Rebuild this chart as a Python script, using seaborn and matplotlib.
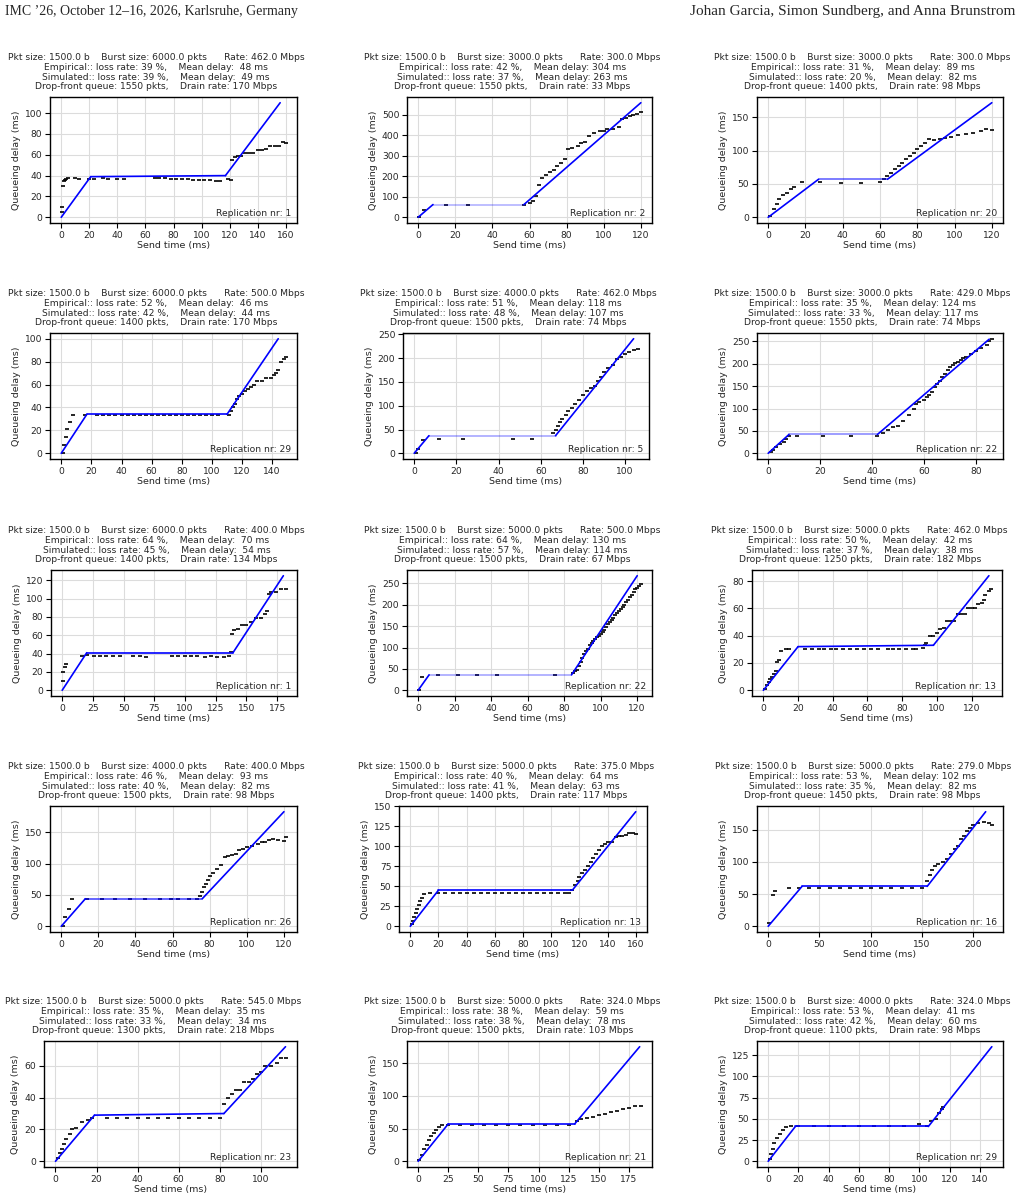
import matplotlib
matplotlib.use("Agg")
import matplotlib.pyplot as plt
from matplotlib.ticker import MultipleLocator
import seaborn as sns
import pandas as pd

# ---------------- data ----------------
burst_size = [6000, 3000, 3000, 6000, 4000, 3000, 6000, 5000, 5000, 4000, 5000, 5000, 5000, 5000, 4000]
pkt_size = [1500.0] * 15
rate_mbps = [462.0, 300.0, 300.0, 500.0, 462.0, 429.0, 400.0, 500.0, 462.0, 400.0, 375.0, 279.0, 545.0, 324.0, 324.0]
emp_loss = [39, 42, 31, 52, 51, 35, 64, 64, 50, 46, 40, 53, 35, 38, 53]
emp_delay = [48, 304, 89, 46, 118, 124, 70, 130, 42, 93, 64, 102, 35, 59, 41]
sim_loss = [39, 37, 20, 42, 48, 33, 45, 57, 37, 40, 41, 35, 33, 38, 42]
sim_delay = [49, 263, 82, 44, 107, 117, 54, 114, 38, 82, 63, 82, 34, 78, 60]
queue_pkts = [1550, 1550, 1400, 1400, 1500, 1550, 1400, 1500, 1250, 1500, 1400, 1450, 1300, 1500, 1100]
drain_mbps = [170, 33, 98, 170, 74, 74, 134, 67, 182, 98, 117, 98, 218, 103, 98]
replication = [1, 2, 20, 29, 5, 22, 1, 22, 13, 26, 13, 16, 23, 21, 29]

# simulated queue (piecewise linear breakpoints)
sim_t_01 = [0, 21, 117, 156];  sim_d_01 = [0, 39, 40, 110]
sim_t_02 = [0, 8, 57, 120];    sim_d_02 = [0, 62, 62, 558]
sim_t_03 = [0, 27, 64, 120];   sim_d_03 = [0, 57, 57, 172]
sim_t_04 = [0, 17, 110, 144];  sim_d_04 = [0, 34, 34, 100]
sim_t_05 = [0, 7, 67, 104];    sim_d_05 = [0, 37, 37, 241]
sim_t_06 = [0, 8, 42, 85];     sim_d_06 = [0, 42, 42, 255]
sim_t_07 = [0, 20, 139, 180];  sim_d_07 = [0, 41, 41, 125]
sim_t_08 = [0, 6, 84, 120];    sim_d_08 = [0, 36, 36, 268]
sim_t_09 = [0, 20, 98, 130];   sim_d_09 = [0, 32, 33, 84]
sim_t_10 = [0, 13, 76, 120];   sim_d_10 = [0, 44, 44, 183]
sim_t_11 = [0, 20, 115, 160];  sim_d_11 = [0, 45, 45, 143]
sim_t_12 = [0, 33, 155, 212];  sim_d_12 = [0, 62, 62, 178]
sim_t_13 = [0, 19, 82, 112];   sim_d_13 = [0, 29, 30, 72]
sim_t_14 = [0, 25, 130, 184];  sim_d_14 = [0, 57, 57, 175]
sim_t_15 = [0, 18, 106, 148];  sim_d_15 = [0, 41, 41, 135]

# empirical queueing delays
emp_t_01 = [0.5, 0.7, 1.2, 1.8, 2.5, 3.5, 5, 10, 13, 20, 23, 30, 33, 40, 45, 67, 70, 74, 78, 82, 86, 90, 94, 98, 102, 106, 110, 113, 119, 121, 122, 124, 126, 128, 131, 134, 137, 140, 143, 146, 149, 152, 155, 158, 160]
emp_d_01 = [5, 10, 30, 35, 36, 37, 37.5, 37.5, 37, 37, 37, 37.5, 37, 37, 37, 38, 37.5, 37.5, 37, 37, 36.5, 36.5, 36, 36, 35.5, 35.5, 35, 35, 37, 36, 55, 58, 59, 59, 62, 62, 62, 65, 65, 66, 68, 68, 68, 72, 71]
emp_t_02 = [0.5, 3, 15, 27, 57, 60, 62, 63.5, 65, 67, 69, 71, 73, 75, 77, 79, 81, 83, 86, 88, 90, 92, 95, 98, 100, 102, 105, 108, 110, 112, 114, 116, 118, 120]
emp_d_02 = [0, 35, 60, 60, 62, 68, 78, 105, 155, 190, 205, 220, 230, 250, 265, 285, 335, 338, 345, 360, 368, 395, 410, 418, 420, 428, 432, 440, 478, 485, 492, 500, 505, 515]
emp_t_03 = [1, 3, 4.5, 6, 8, 10, 12, 14, 18, 28, 39, 50, 60, 62, 64, 66, 68, 70, 72, 74, 76, 78, 80, 82, 84, 86.5, 89, 92, 95, 98, 102, 106, 110, 114, 117, 120]
emp_d_03 = [2, 12, 20, 28, 33, 37, 42, 45, 53, 53, 52, 52, 53, 57, 62, 67, 72, 77, 82, 87, 92, 97, 102, 107, 112, 117, 116, 117, 119, 120, 123, 125, 127, 129, 132, 131]
emp_t_04 = [1, 2, 3, 4, 5.5, 8, 16, 24, 28, 32, 36, 40, 44, 48, 52, 56, 60, 64, 68, 72, 76, 80, 84, 88, 92, 96, 100, 104, 111, 112.5, 114, 115, 116.5, 118, 120, 122, 124, 126, 128, 130, 133, 136, 139, 141, 142.5, 144, 146, 148, 149]
emp_d_04 = [0, 7, 14, 21, 27, 33, 33, 33, 33, 33, 33, 33, 33, 33, 33, 33, 33, 33, 33, 33, 33, 33, 33, 33, 33, 33, 33, 33, 33, 37, 40, 43, 47, 50, 52, 54, 56, 58, 60, 63, 63, 66, 66, 68, 70, 73, 80, 82, 84]
emp_t_05 = [1, 2, 4, 12, 23, 47, 56, 66, 67, 68, 69, 70, 72, 73, 75, 76, 78, 80, 82, 84, 85.5, 87, 88.5, 90, 92, 94, 96, 98, 100, 102, 104, 106]
emp_d_05 = [0, 8, 28, 30, 30, 30, 30, 42, 50, 58, 66, 72, 80, 88, 96, 104, 112, 122, 132, 138, 142, 152, 160, 170, 180, 185, 198, 203, 208, 213, 217, 220]
emp_t_06 = [1, 2, 3, 4.5, 6, 7, 8, 11, 21, 32, 42, 44, 46, 48, 50, 52, 54, 56, 57, 58, 60, 61, 62, 63, 64, 65, 66, 67, 68, 69, 70, 71, 72, 73, 74, 75, 76, 78, 80, 82, 84, 85, 86]
emp_d_06 = [2, 8, 14, 20, 26, 32, 38, 38, 38, 38, 38, 46, 52, 58, 62, 72, 85, 100, 110, 115, 118, 125, 130, 138, 147, 155, 162, 170, 177, 185, 192, 198, 202, 205, 208, 212, 215, 222, 228, 235, 243, 252, 256]
emp_t_07 = [0.5, 1, 2, 3, 16, 20, 26, 31, 36, 41, 47, 58, 63, 68, 89, 94, 100, 105, 110, 116, 121, 126, 132, 136, 137, 138, 140, 143, 146, 150, 154, 158, 162, 165, 167, 168, 170, 174, 178, 182]
emp_d_07 = [10, 20, 25, 29, 37, 38, 37, 37, 37, 37, 37, 37, 37, 36, 37, 37, 37, 37, 37, 36, 37, 36, 36, 37, 42, 61, 66, 67, 71, 71, 75, 79, 79, 83, 86, 105, 107, 107, 111, 110]
emp_t_08 = [0.5, 2, 11, 22, 32, 43, 75, 85, 86, 87, 88, 89, 90, 91, 92, 93, 94, 95, 96, 97, 98, 99, 100, 101, 102, 103, 104, 105, 106, 107, 108, 109, 110, 111, 112, 113, 114, 115, 116, 117, 118, 119, 120, 121, 122]
emp_d_08 = [1, 31, 35, 35, 35, 35, 35, 40, 44, 48, 56, 65, 75, 84, 92, 97, 105, 110, 115, 120, 124, 128, 132, 137, 142, 148, 155, 160, 165, 170, 176, 180, 185, 190, 195, 200, 206, 212, 218, 224, 230, 236, 240, 244, 248]
emp_t_09 = [1, 2, 3, 4, 5, 6, 7, 8, 9, 10, 13, 15, 24, 28, 32, 35, 39, 42, 46, 50, 54, 58, 62, 66, 72, 75, 78, 82, 86, 88, 92, 93, 94, 96, 98, 100, 102, 104, 106, 108, 110, 112, 114, 116, 118, 120, 122, 124, 126, 127, 128, 130, 131]
emp_d_09 = [1, 4, 6, 8, 10, 12, 14, 21, 22, 29, 30, 30, 30, 30, 30, 30, 30, 30, 30, 30, 30, 30, 30, 30, 30, 30, 30, 30, 30, 30, 31, 33, 35, 40, 40, 42, 45, 46, 51, 51, 51, 56, 56, 56, 60, 60, 60, 63, 64, 66, 70, 73, 74]
emp_t_10 = [1, 2, 4, 6, 14, 22, 29, 37, 45, 53, 59, 63, 69, 73, 75, 76, 77, 78, 79, 80, 82, 84, 86, 88, 90, 92, 94, 96, 98, 100, 103, 106, 108, 110, 112, 114, 117, 120, 121]
emp_d_10 = [0, 15, 28, 43, 43, 43, 43, 43, 43, 43, 43, 43, 43, 43, 48, 55, 62, 68, 74, 80, 85, 92, 98, 110, 112, 114, 116, 122, 124, 127, 128, 131, 134, 135, 138, 140, 138, 137, 143]
emp_t_11 = [1, 2, 3, 4, 5, 6, 7, 8, 10, 14, 20, 25, 30, 35, 40, 45, 50, 55, 60, 65, 70, 75, 80, 85, 90, 95, 100, 105, 110, 113, 115, 117, 119, 120, 122, 124, 126, 128, 130, 132, 134, 136, 138, 140, 143, 146, 148, 150, 153, 155, 158, 160]
emp_d_11 = [3, 7, 12, 17, 22, 27, 31, 35, 40, 41, 41, 41, 41, 41, 41, 41, 41, 41, 41, 41, 41, 41, 41, 41, 41, 41, 41, 41, 41, 42, 45, 52, 57, 62, 66, 70, 75, 80, 85, 90, 95, 100, 103, 105, 105, 112, 113, 113, 114, 117, 116, 115]
emp_t_12 = [1, 5, 7, 20, 30, 40, 50, 60, 70, 80, 90, 100, 110, 120, 130, 140, 150, 155, 158, 160, 163, 166, 170, 174, 178, 182, 185, 188, 191, 194, 197, 200, 205, 210, 215, 218]
emp_d_12 = [5, 48, 55, 60, 60, 60, 60, 60, 60, 60, 60, 60, 60, 60, 60, 60, 60, 70, 80, 88, 93, 97, 100, 105, 112, 120, 125, 135, 140, 148, 153, 157, 160, 162, 160, 158]
emp_t_13 = [1, 2, 3, 4, 5, 7, 8, 10, 13, 16, 18, 25, 30, 35, 40, 45, 50, 55, 60, 65, 70, 75, 80, 82, 84, 86, 88, 90, 92, 94, 96, 98, 100, 102, 105, 108, 110, 112]
emp_d_13 = [2, 5, 8, 11, 14, 17, 20, 21, 25, 26, 27, 27, 27, 27, 27, 27, 27, 27, 27, 27, 27, 27, 27, 36, 40, 42, 45, 45, 50, 50, 52, 55, 56, 60, 60, 62, 65, 65]
emp_t_14 = [1, 3, 5, 7, 9, 11, 13, 15, 17, 20, 25, 35, 45, 55, 65, 75, 85, 95, 105, 115, 125, 132, 135, 140, 145, 150, 155, 160, 165, 170, 175, 180, 185]
emp_d_14 = [2, 10, 18, 25, 32, 38, 43, 48, 52, 55, 56, 56, 56, 56, 56, 56, 56, 56, 56, 56, 56, 62, 64, 66, 68, 70, 72, 75, 77, 80, 82, 84, 85]
emp_t_15 = [1, 2, 3, 4, 6, 8, 10, 12, 15, 20, 30, 40, 50, 60, 70, 80, 90, 100, 105, 108, 111, 113, 115, 116]
emp_d_15 = [3, 8, 15, 22, 28, 32, 37, 40, 41, 41, 41, 41, 41, 41, 41, 41, 41, 44, 42, 48, 50, 57, 62, 64]

sim_times = [sim_t_01, sim_t_02, sim_t_03, sim_t_04, sim_t_05, sim_t_06, sim_t_07, sim_t_08, sim_t_09, sim_t_10, sim_t_11, sim_t_12, sim_t_13, sim_t_14, sim_t_15]
sim_delays = [sim_d_01, sim_d_02, sim_d_03, sim_d_04, sim_d_05, sim_d_06, sim_d_07, sim_d_08, sim_d_09, sim_d_10, sim_d_11, sim_d_12, sim_d_13, sim_d_14, sim_d_15]
emp_times = [emp_t_01, emp_t_02, emp_t_03, emp_t_04, emp_t_05, emp_t_06, emp_t_07, emp_t_08, emp_t_09, emp_t_10, emp_t_11, emp_t_12, emp_t_13, emp_t_14, emp_t_15]
emp_delays = [emp_d_01, emp_d_02, emp_d_03, emp_d_04, emp_d_05, emp_d_06, emp_d_07, emp_d_08, emp_d_09, emp_d_10, emp_d_11, emp_d_12, emp_d_13, emp_d_14, emp_d_15]

# tick spacing per panel
x_tick_step = [20, 20, 20, 20, 20, 20, 25, 20, 20, 20, 20, 50, 20, 25, 20]
y_tick_step = [20, 100, 50, 20, 50, 50, 20, 50, 20, 50, 25, 50, 20, 50, 25]

# ---------------- style / layout ----------------
flat_alpha = [1, 0.3, 0.6, 1, 0.35, 0.45, 1, 0.35, 1, 0.7, 1, 1, 1, 1, 1]
ax_left = [50, 407, 757, 50, 403, 757, 51, 407, 752, 50, 399, 757, 44, 407, 757]
ax_right = [297, 652, 1003, 297, 649, 1003, 297, 652, 1002, 297, 647, 1003, 297, 652, 1003]
row_top = [97, 333, 570, 806, 1041]
AX_H = 126
W, H = 1020, 1200
FS = 6.6

sns.set_style("ticks", {"axes.grid": True, "grid.color": "#dcdcdc", "axes.edgecolor": "black"})
plt.rcParams['font.family'] = ['DejaVu Sans']
plt.rcParams['grid.linewidth'] = 0.8

fig = plt.figure(figsize=(W / 100, H / 100), dpi=100)

fig.text(5 / W, 1 - 12 / H, "IMC \u201926, October 12\u201316, 2026, Karlsruhe, Germany",
         family=['Liberation Serif'], fontsize=10.0, ha='left', va='center')
fig.text(1015 / W, 1 - 12 / H, "Johan Garcia, Simon Sundberg, and Anna Brunstrom",
         family=['Liberation Serif'], fontsize=11.0, ha='right', va='center')

for i in range(15):
    l, r = ax_left[i], ax_right[i]
    t = row_top[i // 3]
    b = t + AX_H
    ax = fig.add_axes([l / W, 1 - b / H, (r - l) / W, AX_H / H])

    emp = pd.DataFrame({"t": emp_times[i], "d": emp_delays[i]})
    sns.scatterplot(data=emp, x="t", y="d", marker="_", s=9, color="black",
                    linewidth=1.2, ax=ax, zorder=3, legend=False)

    st, sd = sim_times[i], sim_delays[i]
    for k in range(3):
        seg = pd.DataFrame({"t": st[k:k + 2], "d": sd[k:k + 2]})
        alpha = flat_alpha[i] if k == 1 else 1.0
        sns.lineplot(data=seg, x="t", y="d", color="blue", lw=1.2, alpha=alpha,
                     sort=False, estimator=None, ax=ax, zorder=4)

    ax.xaxis.set_major_locator(MultipleLocator(x_tick_step[i]))
    ax.yaxis.set_major_locator(MultipleLocator(y_tick_step[i]))

    for s in ax.spines.values():
        s.set_color("black")
        s.set_linewidth(1.0)
    ax.grid(True, color="#dcdcdc", lw=0.8)
    ax.tick_params(labelsize=FS, length=3.5, width=0.8, pad=2, color="black")
    ax.set_xlabel("Send time (ms)", fontsize=FS + 0.2, labelpad=1)
    ax.set_ylabel("Queueing delay (ms)", fontsize=FS + 0.2, labelpad=3)

    title = (f"Pkt size: {pkt_size[i]:.1f} b    Burst size: {burst_size[i]:.1f} pkts      Rate: {rate_mbps[i]:.1f} Mbps\n"
             f"Empirical:: loss rate: {emp_loss[i]} %,    Mean delay: {emp_delay[i]:3d} ms\n"
             f"Simulated:: loss rate: {sim_loss[i]} %,    Mean delay: {sim_delay[i]:3d} ms\n"
             f"Drop-front queue: {queue_pkts[i]} pkts,    Drain rate: {drain_mbps[i]} Mbps")
    ax.annotate(title, xy=(0.5, 1.0), xycoords="axes fraction", xytext=(-12.5, 4),
                textcoords="offset points", ha="center", va="bottom", fontsize=FS,
                linespacing=1.1)
    ax.text(0.975, 0.04, f"Replication nr: {replication[i]}", transform=ax.transAxes,
            ha="right", va="bottom", fontsize=FS)

fig.savefig("out.png", dpi=100)
